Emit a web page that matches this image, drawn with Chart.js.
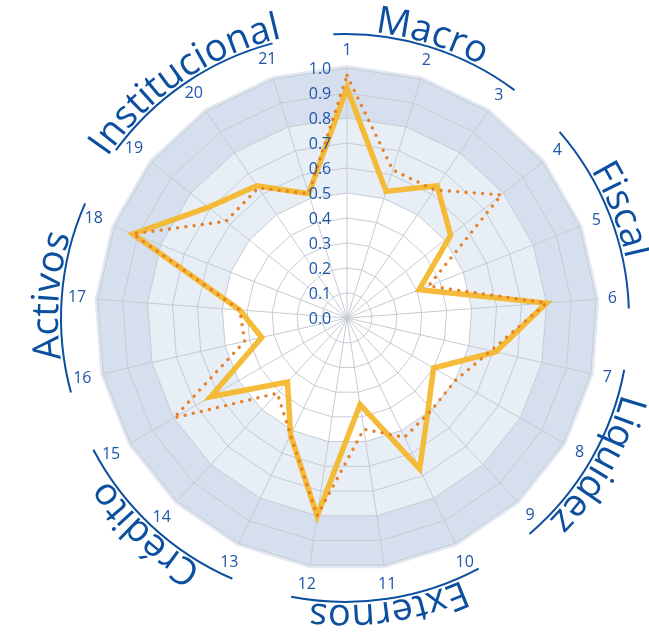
<!DOCTYPE html>
<html>
<head>
<meta charset="utf-8">
<script src="https://cdn.jsdelivr.net/npm/chart.js@4.4.1/dist/chart.umd.min.js"></script>
<style>
  html, body { margin: 0; padding: 0; background: #ffffff; }
  #wrap { width: 649px; height: 637px; position: relative; }
</style>
</head>
<body>
<div id="wrap"><canvas id="c"></canvas></div>
<script>
// ---- data ----
const categories = ['1','2','3','4','5','6','7','8','9','10','11','12','13','14','15','16','17','18','19','20','21'];
const solidValues  = [0.92,0.53,0.64,0.53,0.31,0.80,0.61,0.40,0.48,0.67,0.35,0.80,0.52,0.35,0.63,0.35,0.43,0.92,0.71,0.64,0.52];
const dottedValues = [0.97,0.62,0.62,0.79,0.35,0.80,0.59,0.50,0.50,0.53,0.45,0.80,0.52,0.41,0.80,0.42,0.43,0.92,0.62,0.63,0.52];
const tickValues = [0.0,0.1,0.2,0.3,0.4,0.5,0.6,0.7,0.8,0.9,1.0];
const tickLabels = ['0.0','0.1','0.2','0.3','0.4','0.5','0.6','0.7','0.8','0.9','1.0'];
const groupNames = ['Macro','Fiscal','Liquidez','Externos','Crédito','Activos','Institucional'];
const groupFirstIndex = [0,3,6,9,12,15,18];
const groupSize = 3;
const bandRanges = [[0.8,1.0],[0.5,0.8]];

// ---- styles ----
const BLUE = '#0c4f9f';
const TICKBLUE = '#1f56a8';
const bandColors = ['#d5dfed', '#e8eef6'];

function polyPath(ctx, scale, n, dist) {
  for (let i = 0; i < n; i++) {
    const p = scale.getPointPosition(i, dist);
    if (i === 0) ctx.moveTo(p.x, p.y); else ctx.lineTo(p.x, p.y);
  }
  ctx.closePath();
}

const bandsPlugin = {
  id: 'bands',
  beforeDraw(chart) {
    const s = chart.scales.r, ctx = chart.ctx, n = categories.length;
    ctx.save();
    ctx.beginPath();
    polyPath(ctx, s, n, s.getDistanceFromCenterForValue(1.0));
    ctx.strokeStyle = '#e2e8f1';
    ctx.lineWidth = 6;
    ctx.lineJoin = 'round';
    ctx.stroke();
    bandRanges.forEach((rg, k) => {
      ctx.beginPath();
      polyPath(ctx, s, n, s.getDistanceFromCenterForValue(rg[1]));
      const inner = s.getDistanceFromCenterForValue(rg[0]);
      for (let i = n - 1; i >= 0; i--) {
        const p = s.getPointPosition(i, inner);
        if (i === n - 1) ctx.moveTo(p.x, p.y); else ctx.lineTo(p.x, p.y);
      }
      ctx.closePath();
      ctx.fillStyle = bandColors[k];
      ctx.fill('evenodd');
    });
    ctx.restore();
  }
};

function arcText(ctx, text, cx, cy, r, centerAng) {
  const total = ctx.measureText(text).width;
  const start = centerAng - (total / 2) / r;
  ctx.textAlign = 'center';
  ctx.textBaseline = 'alphabetic';
  for (let i = 0; i < text.length; i++) {
    const pre = ctx.measureText(text.slice(0, i)).width;
    const w = ctx.measureText(text[i]).width;
    const a = start + (pre + w / 2) / r;
    ctx.save();
    ctx.translate(cx + r * Math.sin(a), cy - r * Math.cos(a));
    ctx.rotate(a);
    ctx.fillText(text[i], 0, 0);
    ctx.restore();
  }
}

const labelsPlugin = {
  id: 'labels',
  afterDraw(chart) {
    const s = chart.scales.r, ctx = chart.ctx, n = categories.length;
    const cx = s.xCenter, cy = s.yCenter;
    ctx.save();
    ctx.font = '16px "Open Sans"';
    ctx.fillStyle = TICKBLUE;
    ctx.textAlign = 'center';
    ctx.textBaseline = 'middle';
    tickValues.forEach((v, k) => {
      const d = s.getDistanceFromCenterForValue(v);
      ctx.fillText(tickLabels[k], cx - 27, cy - d + 1);
    });
    categories.forEach((lab, i) => {
      const ang = i * 2 * Math.PI / n;
      const w = ctx.measureText(lab).width;
      const extra = Math.abs(Math.sin(ang)) * w / 2 + Math.abs(Math.cos(ang)) * 7;
      const p = s.getPointPosition(i, s.drawingArea + 11 + extra);
      ctx.fillText(lab, p.x, p.y);
    });
    const arcR = s.drawingArea + 34;
    const txtR = s.drawingArea + 37;
    const acx = cx - 2;
    ctx.strokeStyle = BLUE;
    ctx.fillStyle = BLUE;
    ctx.lineWidth = 2;
    ctx.font = '38px "Open Sans"';
    groupNames.forEach((name, g) => {
      const mid = (groupFirstIndex[g] + (groupSize - 1) / 2) * 2 * Math.PI / n;
      const half = 19.5 * Math.PI / 180;
      ctx.beginPath();
      ctx.arc(acx, cy, arcR, mid - half - Math.PI / 2, mid + half - Math.PI / 2);
      ctx.stroke();
      arcText(ctx, name, acx, cy, txtR, mid);
    });
    ctx.restore();
  }
};

new Chart(document.getElementById('c'), {
  type: 'radar',
  data: {
    labels: categories,
    datasets: [
      {
        label: 'dotted',
        data: dottedValues,
        borderColor: '#e8802a',
        borderWidth: 3.4,
        borderDash: [0.01, 8.3],
        borderCapStyle: 'round',
        fill: false,
        pointRadius: 0,
        tension: 0,
        order: 0
      },
      {
        label: 'solid',
        data: solidValues,
        borderColor: 'rgba(244,182,40,0.92)',
        borderWidth: 5.5,
        borderJoinStyle: 'miter',
        fill: false,
        pointRadius: 0,
        tension: 0,
        order: 1
      }
    ]
  },
  options: {
    responsive: true,
    maintainAspectRatio: false,
    animation: false,
    layout: { padding: { left: 97, top: 68, right: 52, bottom: 69 } },
    plugins: { legend: { display: false }, tooltip: { enabled: false } },
    scales: {
      r: {
        min: 0,
        max: 1,
        ticks: { display: false, stepSize: 0.1 },
        pointLabels: { display: false },
        grid: { color: '#c6cbd3', lineWidth: 1 },
        angleLines: { color: '#c6cbd3', lineWidth: 1 }
      }
    }
  },
  plugins: [bandsPlugin, labelsPlugin]
});
</script>
</body>
</html>
